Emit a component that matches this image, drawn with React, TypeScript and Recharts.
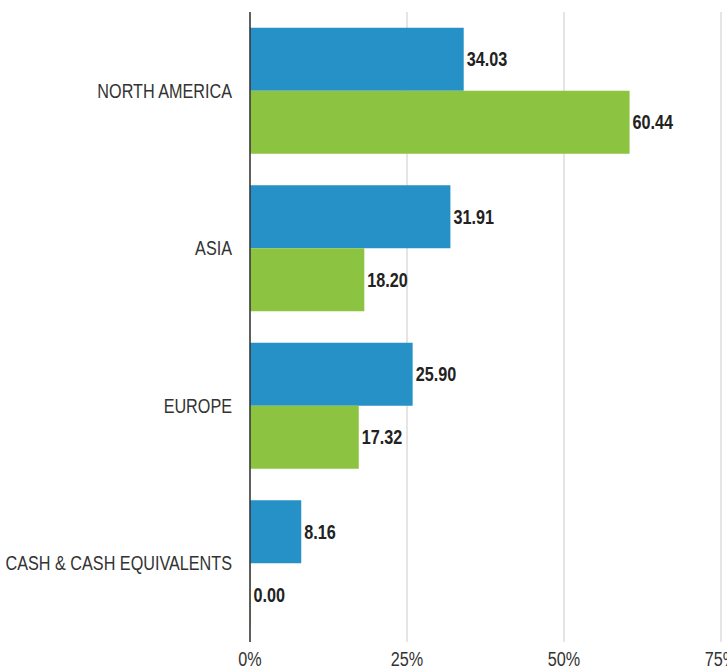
import { BarChart, Bar, XAxis, YAxis, CartesianGrid, LabelList } from 'recharts';

const regions = ['NORTH AMERICA', 'ASIA', 'EUROPE', 'CASH & CASH EQUIVALENTS'];
const fundValues = [34.03, 31.91, 25.9, 8.16];
const benchmarkValues = [60.44, 18.2, 17.32, 0.0];
const xTicks = [0, 25, 50, 75];

// no narrow font installed, so squeeze Liberation Sans horizontally
const FONT = "'Liberation Sans', Arial, sans-serif";
const SQUEEZE = 0.81;

const data = regions.map((name, i) => ({
  name,
  fund: fundValues[i],
  benchmark: benchmarkValues[i],
}));

function YTick(props: any) {
  const { x, y, payload } = props;
  return (
    <text
      transform={`translate(${x},${y}) scale(${SQUEEZE},1)`}
      textAnchor="end"
      dy="0.36em"
      fontFamily={FONT}
      fontSize={20}
      fill="#333"
    >
      {payload.value}
    </text>
  );
}

function XTick(props: any) {
  const { x, y, payload } = props;
  return (
    <text
      transform={`translate(${x},${y}) scale(${SQUEEZE},1)`}
      textAnchor="middle"
      dy="0.71em"
      fontFamily={FONT}
      fontSize={20}
      fill="#333"
    >
      {`${payload.value}%`}
    </text>
  );
}

function ValueLabel(props: any) {
  const { x, y, width, height, value } = props;
  const lx = Number(x) + Number(width) + 3;
  const ly = Number(y) + Number(height) / 2;
  return (
    <text
      transform={`translate(${lx},${ly}) scale(${SQUEEZE},1)`}
      textAnchor="start"
      dy="0.36em"
      fontFamily={FONT}
      fontSize={20}
      fontWeight={700}
      fill="#222"
    >
      {Number(value).toFixed(2)}
    </text>
  );
}

export default function App() {
  return (
    <div style={{ position: 'absolute', left: 0, top: 0, width: 727, height: 669, background: '#fff' }}>
      <BarChart
        width={727}
        height={669}
        data={data}
        layout="vertical"
        margin={{ top: 12, right: 6, left: 0, bottom: 0 }}
        barCategoryGap="10%"
        barGap={0}
      >
        <CartesianGrid horizontal={false} stroke="#dcdcdc" strokeWidth={1.5} />
        <XAxis
          type="number"
          domain={[0, 75]}
          ticks={xTicks}
          interval={0}
          axisLine={false}
          tickLine={false}
          tickSize={6}
          tickMargin={4}
          height={27}
          tick={<XTick />}
        />
        <YAxis
          type="category"
          dataKey="name"
          width={250}
          axisLine={{ stroke: '#333', strokeWidth: 1.5 }}
          tickLine={false}
          tickSize={6}
          tickMargin={12}
          tick={<YTick />}
        />
        <Bar dataKey="fund" fill="#2591c6" isAnimationActive={false}>
          <LabelList dataKey="fund" content={<ValueLabel />} />
        </Bar>
        {/* tiny min size keeps the 0.00 label; the sliver hides under the axis line */}
        <Bar dataKey="benchmark" fill="#8cc341" minPointSize={0.5} isAnimationActive={false}>
          <LabelList dataKey="benchmark" content={<ValueLabel />} />
        </Bar>
      </BarChart>
    </div>
  );
}
